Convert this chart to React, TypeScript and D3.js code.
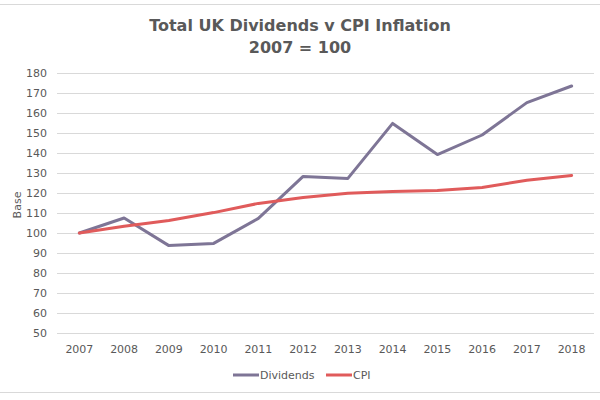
import React from "react";
import * as d3 from "d3";

const years = ["2007", "2008", "2009", "2010", "2011", "2012", "2013", "2014", "2015", "2016", "2017", "2018"];
const dividends = [100, 107.5, 93.7, 94.8, 107.3, 128.3, 127.3, 154.8, 139.2, 149, 165.2, 173.5];
const cpi = [100, 103.4, 106.2, 110.2, 114.8, 117.7, 119.9, 120.7, 121.2, 122.8, 126.4, 128.8];
const yTicks = [50, 60, 70, 80, 90, 100, 110, 120, 130, 140, 150, 160, 170, 180];

const W = 600;
const H = 400;
const plot = { left: 57, right: 594, top: 73, bottom: 333 };
const textColor = "#595959";
const font = "'DejaVu Sans', Verdana, sans-serif";

const series = [
  { name: "Dividends", values: dividends, color: "#7e7596" },
  { name: "CPI", values: cpi, color: "#e05b5b" },
];

export default function App() {
  const x = d3.scaleBand<string>().domain(years).range([plot.left, plot.right]);
  const y = d3.scaleLinear().domain([50, 180]).range([plot.bottom, plot.top]);
  const line = d3
    .line<number>()
    .x((_, i) => (x(years[i]) as number) + x.bandwidth() / 2)
    .y((d) => y(d));

  const legendItems = [
    { x: 233, textX: 260 },
    { x: 326, textX: 353 },
  ];

  return (
    <svg
      width={W}
      height={H}
      style={{ position: "absolute", left: 0, top: 0, background: "#fff" }}
      fontFamily={font}
    >
      <line x1={0} x2={W} y1={4.5} y2={4.5} stroke="#d9d9d9" />
      <line x1={0} x2={W} y1={392.5} y2={392.5} stroke="#d9d9d9" />

      <text x={300} y={31} textAnchor="middle" fontSize={16} fontWeight="bold" fill={textColor}>
        Total UK Dividends v CPI Inflation
      </text>
      <text x={300} y={53} textAnchor="middle" fontSize={16} fontWeight="bold" fill={textColor}>
        2007 = 100
      </text>

      {yTicks.map((t) => (
        <g key={t}>
          <line
            x1={plot.left}
            x2={plot.right}
            y1={Math.round(y(t)) + 0.5}
            y2={Math.round(y(t)) + 0.5}
            stroke="#d9d9d9"
            strokeWidth={1}
          />
          <text x={47} y={y(t) + 4} textAnchor="end" fontSize={11} fill={textColor}>
            {t}
          </text>
        </g>
      ))}

      {years.map((yr) => (
        <text
          key={yr}
          x={(x(yr) as number) + x.bandwidth() / 2}
          y={353}
          textAnchor="middle"
          fontSize={11}
          fill={textColor}
        >
          {yr}
        </text>
      ))}

      <text
        transform={`translate(21,${(plot.top + plot.bottom) / 2 + 2}) rotate(-90)`}
        textAnchor="middle"
        fontSize={11}
        fill={textColor}
      >
        Base
      </text>

      {series.map((s) => (
        <path
          key={s.name}
          d={line(s.values) || ""}
          fill="none"
          stroke={s.color}
          strokeWidth={3}
          strokeLinejoin="round"
          strokeLinecap="round"
        />
      ))}

      {series.map((s, i) => (
        <g key={s.name}>
          <line
            x1={legendItems[i].x}
            x2={legendItems[i].x + 26}
            y1={375}
            y2={375}
            stroke={s.color}
            strokeWidth={3}
          />
          <text x={legendItems[i].textX} y={379} fontSize={11} fill={textColor}>
            {s.name}
          </text>
        </g>
      ))}
    </svg>
  );
}
